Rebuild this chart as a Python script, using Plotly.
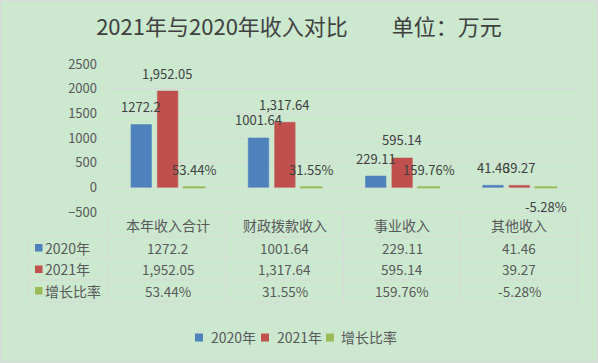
import plotly.graph_objects as go

# ---------------- data ----------------
categories = ["本年收入合计", "财政拨款收入", "事业收入", "其他收入"]
series_names = ["2020年", "2021年", "增长比率"]
values_2020 = [1272.2, 1001.64, 229.11, 41.46]
values_2021 = [1952.05, 1317.64, 595.14, 39.27]
growth_rate = [0.5344, 0.3155, 1.5976, -0.0528]   # plotted as fractions (53.44% -> 0.5344)
y_ticks = [-500, 0, 500, 1000, 1500, 2000, 2500]
title_text = "2021年与2020年收入对比　　单位：万元"

colors = ["#4f81bd", "#c0504d", "#9bbb59"]
BG = "#cce8cf"
GRID = "#d9d9d9"
TXT = "#595959"
FONT = "Noto Sans CJK SC"

labels_2020 = [f"{v:g}" for v in values_2020]
labels_2021 = [f"{v:,.2f}" for v in values_2021]
labels_growth = [f"{v:.2%}" for v in growth_rate]
series_values = [values_2020, values_2021, growth_rate]
series_labels = [labels_2020, labels_2021, labels_growth]

# ---------------- geometry ----------------
W, H = 598, 363
L, R, T, B = 109, 20, 64, 151
PW, PH = W - L - R, H - T - B


def px_x(p):
    return (p - L) / PW


def px_y(p):
    return (H - B - p) / PH


xs = list(range(len(categories)))
bar_w = 0.175
centers = [-0.225, 0.0, 0.225]

fig = go.Figure()
for s, name in enumerate(series_names):
    fig.add_trace(go.Bar(
        x=xs, y=series_values[s], name=name,
        width=bar_w, offset=centers[s] - bar_w / 2,
        marker=dict(color=colors[s], line=dict(color=colors[s], width=2 if s == 2 else 0.5)),
        showlegend=False,
    ))

annotations = []
shapes = []

# data labels
for s in range(len(series_names)):
    for i, v in enumerate(series_values[s]):
        annotations.append(dict(
            x=i + centers[s], y=v, xref="x", yref="y",
            text=series_labels[s][i], showarrow=False,
            xanchor="center", yanchor="middle",
            yshift=18 if v >= 0 else -19,
            font=dict(size=13, color="#404040", family=FONT),
        ))

# data table
row_y = [247.5, 269, 290.5]
for i, c in enumerate(categories):
    annotations.append(dict(x=i, y=px_y(224.5), xref="x", yref="paper", text=c,
                            xanchor="center", yanchor="middle",
                            showarrow=False, font=dict(size=14, color=TXT, family=FONT)))
    for s in range(len(series_names)):
        annotations.append(dict(x=i, y=px_y(row_y[s]), xref="x", yref="paper",
                                text=series_labels[s][i], showarrow=False,
                                xanchor="center", yanchor="middle",
                                font=dict(size=13.5, color=TXT, family=FONT)))
for s, name in enumerate(series_names):
    annotations.append(dict(x=px_x(43), y=px_y(row_y[s]), xref="paper", yref="paper",
                            xanchor="left", yanchor="middle", text=name, showarrow=False,
                            font=dict(size=14, color=TXT, family=FONT)))
    shapes.append(dict(type="rect", xref="paper", yref="paper",
                       x0=px_x(35), x1=px_x(42.5),
                       y0=px_y(row_y[s] + 4), y1=px_y(row_y[s] - 3.5),
                       fillcolor=colors[s], line=dict(width=0)))

line_style = dict(color=GRID, width=1)
shapes.append(dict(type="line", xref="paper", yref="paper", x0=0, x1=1,
                   y0=px_y(212.5), y1=px_y(212.5), line=line_style))
for yy in [237, 258.5, 280, 302]:
    shapes.append(dict(type="line", xref="paper", yref="paper", x0=px_x(29), x1=1,
                       y0=px_y(yy), y1=px_y(yy), line=line_style))
shapes.append(dict(type="line", xref="paper", yref="paper", x0=px_x(29), x1=px_x(29),
                   y0=px_y(237), y1=px_y(302), line=line_style))
for k in range(len(categories) + 1):
    xx = k / len(categories)
    shapes.append(dict(type="line", xref="paper", yref="paper", x0=xx, x1=xx,
                       y0=px_y(212.5), y1=px_y(302), line=line_style))

# legend (drawn manually for compact Excel-like spacing)
leg_sq = [195, 261, 326]
leg_tx = [209, 275, 339]
for s, name in enumerate(series_names):
    shapes.append(dict(type="rect", xref="paper", yref="paper",
                       x0=px_x(leg_sq[s]), x1=px_x(leg_sq[s] + 8),
                       y0=px_y(341.5), y1=px_y(333.5),
                       fillcolor=colors[s], line=dict(width=0)))
    annotations.append(dict(x=px_x(leg_tx[s]), y=px_y(337), xref="paper", yref="paper",
                            xanchor="left", yanchor="middle", text=name, showarrow=False,
                            font=dict(size=14, color=TXT, family=FONT)))

# outer border
shapes.append(dict(type="rect", xref="paper", yref="paper",
                   x0=px_x(0.5), x1=px_x(W - 0.5), y0=px_y(H - 1), y1=px_y(0.5),
                   line=dict(color=GRID, width=1.5)))

fig.update_layout(
    width=W, height=H,
    margin=dict(l=L, r=R, t=T, b=B),
    paper_bgcolor=BG, plot_bgcolor=BG,
    barmode="overlay",
    font=dict(family=FONT, color=TXT),
    title=dict(text=title_text, x=0.5, xref="container", xanchor="center",
               y=1 - 27 / H, yref="container", yanchor="middle",
               font=dict(size=22, color="#404040", family=FONT)),
    xaxis=dict(range=[-0.5, 3.5], showgrid=False, zeroline=False,
               showticklabels=False, fixedrange=True),
    yaxis=dict(range=[-500, 2500], tickvals=y_ticks, showgrid=True, gridcolor=GRID,
               gridwidth=1, zeroline=False, tickfont=dict(size=13, color=TXT, family=FONT),
               ticklabelstandoff=11, fixedrange=True),
    annotations=annotations,
    shapes=shapes,
    showlegend=False,
)

fig.write_html(
    "out.html",
    config={"displayModeBar": False},
    post_script="document.body.style.margin='0';document.body.style.overflow='hidden';",
)
